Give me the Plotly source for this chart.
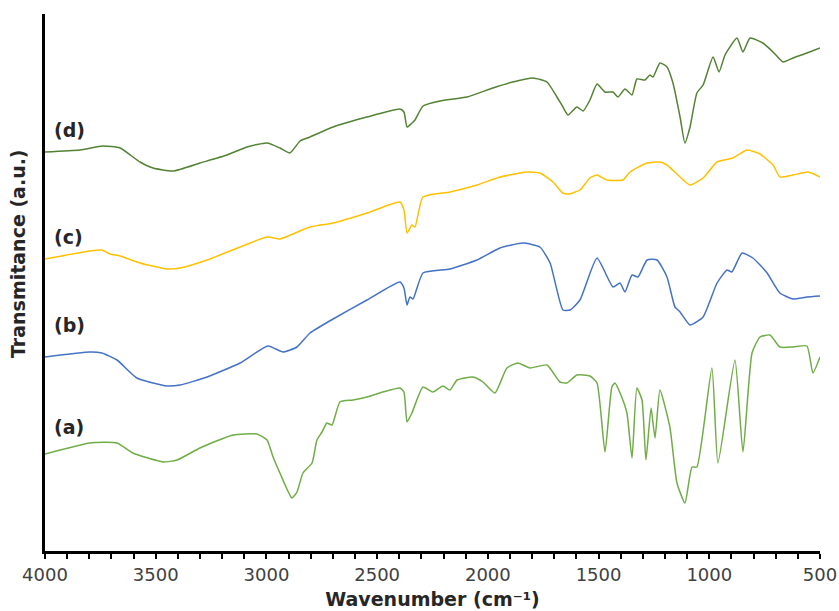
import plotly.graph_objects as go

# FTIR spectra: wavenumber (cm-1) and transmittance (arbitrary units, offset)
a_wn = [4000, 3797, 3675, 3603, 3467, 3404, 3300, 3151, 3043, 2997, 2970, 2939, 2885, 2862, 2835, 2794,
        2772, 2749, 2727, 2704, 2668, 2609, 2546, 2474, 2397, 2379, 2365, 2343, 2293, 2248, 2203, 2171,
        2139, 2067, 2022, 1968, 1914, 1864, 1810, 1733, 1674, 1643, 1598, 1539, 1507, 1471, 1440, 1426,
        1403, 1372, 1349, 1327, 1304, 1286, 1263, 1245, 1223, 1178, 1146, 1110, 1078, 1056, 988, 961,
        884, 848, 807, 771, 726, 681, 622, 559, 532, 500]
a_t = [97, 108, 108, 98, 89, 91, 103, 116, 117, 111, 94, 78, 53, 59, 78, 88,
       111, 119, 128, 126, 149, 151, 154, 159, 163, 159, 129, 138, 164, 159, 165, 161,
       171, 174, 169, 158, 183, 188, 183, 186, 169, 168, 176, 175, 168, 99, 164, 168,
       158, 138, 93, 163, 151, 91, 143, 113, 161, 124, 68, 48, 84, 84, 183, 88,
       191, 99, 198, 214, 216, 204, 204, 205, 178, 194]

b_wn = [4000, 3797, 3743, 3675, 3585, 3449, 3390, 3268, 3119, 2993, 2925, 2862, 2803, 2699, 2546, 2397,
        2379, 2365, 2352, 2338, 2293, 2171, 2049, 1945, 1841, 1765, 1719, 1661, 1629, 1584, 1507, 1435,
        1403, 1381, 1349, 1322, 1281, 1236, 1191, 1155, 1132, 1087, 1028, 965, 920, 898, 852, 803,
        739, 681, 622, 559, 500]
b_t = [194, 199, 198, 191, 173, 165, 166, 174, 188, 205, 199, 204, 218, 232, 251, 269,
       263, 246, 254, 252, 278, 282, 291, 303, 308, 304, 288, 241, 241, 251, 293, 264,
       268, 259, 276, 274, 291, 291, 274, 244, 239, 226, 234, 268, 281, 279, 298, 293,
       278, 258, 252, 254, 255]

c_wn = [4000, 3797, 3743, 3706, 3661, 3571, 3449, 3390, 3268, 3119, 2997, 2939, 2880, 2803, 2699, 2546,
        2397, 2379, 2365, 2343, 2329, 2293, 2171, 2049, 1945, 1823, 1765, 1706, 1661, 1638, 1584, 1539,
        1507, 1462, 1390, 1358, 1281, 1223, 1191, 1146, 1087, 1028, 965, 893, 830, 771, 712, 681,
        622, 554, 500]
c_t = [292, 300, 301, 297, 295, 288, 282, 283, 291, 304, 314, 312, 317, 324, 328, 338,
       349, 341, 318, 326, 324, 354, 359, 366, 374, 379, 378, 369, 358, 357, 361, 373,
       376, 371, 371, 379, 388, 389, 386, 377, 366, 373, 389, 393, 401, 397, 386, 374,
       376, 379, 374]

d_wn = [4000, 3842, 3738, 3661, 3571, 3512, 3422, 3300, 3178, 3088, 2997, 2939, 2894, 2848, 2803, 2699,
        2546, 2397, 2379, 2365, 2347, 2329, 2293, 2216, 2094, 1977, 1887, 1796, 1733, 1688, 1661, 1638,
        1598, 1570, 1539, 1507, 1471, 1435, 1412, 1381, 1349, 1327, 1290, 1268, 1254, 1223, 1191, 1164,
        1132, 1110, 1087, 1056, 1028, 983, 956, 929, 875, 848, 816, 758, 712, 667, 622, 559, 500]
d_t = [399, 401, 405, 403, 389, 383, 380, 388, 396, 404, 408, 403, 398, 410, 414, 424,
       434, 442, 439, 424, 427, 431, 445, 450, 454, 463, 469, 473, 469, 454, 444, 436,
       444, 440, 451, 467, 459, 459, 454, 462, 456, 472, 471, 476, 474, 488, 484, 468,
       434, 408, 424, 458, 466, 494, 479, 496, 513, 499, 513, 508, 499, 489, 493, 498, 503]

labels = ["(a)", "(b)", "(c)", "(d)"]
label_t = [124, 226, 314, 421]
colors = ["#70AD47", "#4472C4", "#FFC000", "#548235"]
series = [(a_wn, a_t), (b_wn, b_t), (c_wn, c_t), (d_wn, d_t)]

FONT = "DejaVu Sans, Liberation Sans, Arial, sans-serif"

L, R, T, B = 45, 19, 14, 60
PW, PH = 839 - L - R, 611 - T - B

fig = go.Figure()
for (wn, t), col, name in zip(series, colors, labels):
    fig.add_trace(go.Scatter(x=wn, y=t, mode="lines", name=name,
                             line=dict(color=col, width=1.5, shape="spline", smoothing=0.5),
                             showlegend=False, hoverinfo="skip"))

for lab, yt in zip(labels, label_t):
    fig.add_annotation(x=3970, y=yt, xref="x", yref="y", text="<b>%s</b>" % lab,
                       showarrow=False, xanchor="left", yanchor="middle",
                       font=dict(family=FONT, size=19, color="#262626"))

fig.add_annotation(x=(18 - L) / PW, y=(611 - B - 254) / PH, xref="paper", yref="paper",
                   text="<b>Transmitance (a.u.)</b>",
                   showarrow=False, textangle=-90, xanchor="center", yanchor="middle",
                   font=dict(family=FONT, size=19, color="#262626"))

fig.update_layout(
    width=839, height=611,
    margin=dict(l=L, r=R, t=T, b=B, autoexpand=False),
    paper_bgcolor="white", plot_bgcolor="white",
    font=dict(family=FONT),
    xaxis=dict(range=[4000, 500], dtick=500, tick0=500, showgrid=False, zeroline=False,
               showline=True, linecolor="black", linewidth=3, automargin=False,
               ticklabeloverflow="allow",
               ticks="outside", ticklen=5, tickwidth=2, tickcolor="black",
               minor=dict(dtick=100, ticks="outside", ticklen=5, tickwidth=2, tickcolor="black", showgrid=False),
               tickfont=dict(family=FONT, size=18, color="#404040"),
               title=dict(text="<b>Wavenumber (cm⁻¹)</b>", standoff=10,
                          font=dict(family=FONT, size=19, color="#262626"))),
    yaxis=dict(range=[0, 537], showgrid=False, zeroline=False, showticklabels=False,
               showline=True, linecolor="black", linewidth=3, ticks=""),
)

fig.write_html("out.html")
